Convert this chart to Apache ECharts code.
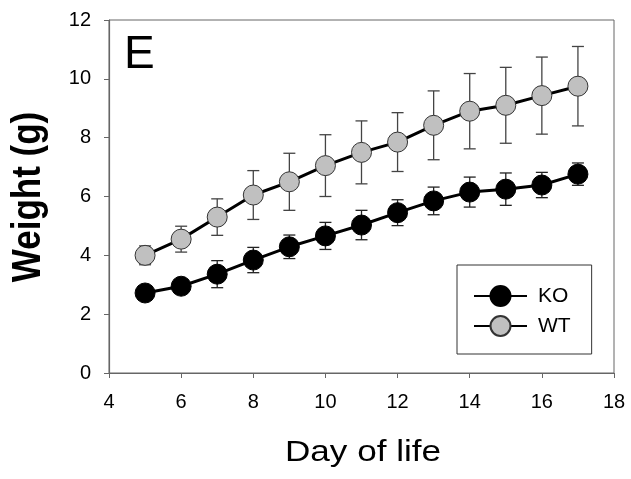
<!DOCTYPE html>
<html>
<head>
<meta charset="utf-8">
<script src="https://cdn.jsdelivr.net/npm/echarts@6/dist/echarts.min.js"></script>
<style>
  html, body { margin: 0; padding: 0; background: #fff; }
  #main { width: 631px; height: 479px; }
</style>
</head>
<body>
<div id="main"></div>
<script>
// data
const days = [5, 6, 7, 8, 9, 10, 11, 12, 13, 14, 15, 16, 17];
const koMean = [2.72, 2.95, 3.36, 3.84, 4.29, 4.66, 5.03, 5.45, 5.85, 6.15, 6.25, 6.39, 6.76];
const koErr = [0.2, 0.2, 0.46, 0.43, 0.40, 0.46, 0.50, 0.44, 0.47, 0.51, 0.55, 0.43, 0.38];
const wtMean = [4.0, 4.55, 5.3, 6.05, 6.5, 7.05, 7.5, 7.85, 8.42, 8.9, 9.1, 9.43, 9.75];
const wtErr = [0.32, 0.44, 0.62, 0.83, 0.97, 1.05, 1.07, 1.0, 1.17, 1.28, 1.29, 1.31, 1.35];
const xTicks = [4, 6, 8, 10, 12, 14, 16, 18];
const yTicks = [0, 2, 4, 6, 8, 10, 12];

const font = 'Liberation Sans, Arial, sans-serif';

// error bar drawing
function errBar(color) {
  return function (params, api) {
    const x = api.value(0);
    const top = api.coord([x, api.value(1)]);
    const bot = api.coord([x, api.value(2)]);
    const w = 6;
    const style = { stroke: color, lineWidth: 1.3 };
    return {
      type: 'group',
      children: [
        { type: 'line', shape: { x1: top[0], y1: top[1], x2: bot[0], y2: bot[1] }, style: style },
        { type: 'line', shape: { x1: top[0] - w, y1: top[1], x2: top[0] + w, y2: top[1] }, style: style },
        { type: 'line', shape: { x1: bot[0] - w, y1: bot[1], x2: bot[0] + w, y2: bot[1] }, style: style }
      ]
    };
  };
}

const koBars = days.map((d, i) => [d, koMean[i] + koErr[i], koMean[i] - koErr[i]]);
const wtBars = days.map((d, i) => [d, wtMean[i] + wtErr[i], wtMean[i] - wtErr[i]]);

const option = {
  animation: false,
  backgroundColor: '#fff',
  textStyle: { fontFamily: font },
  grid: {
    left: 109, top: 20, right: 17, bottom: 106,
    show: true, borderColor: '#666', borderWidth: 1
  },
  graphic: [
    {
      type: 'text', left: 124, top: 32,
      style: { text: 'E', font: '46px ' + font, fill: '#000' }
    },
    // axis titles (the figure is a bit stretched sideways)
    {
      type: 'text', x: 363, y: 453, scaleX: 1.17,
      style: { text: 'Day of life', font: '30px ' + font, fill: '#000', align: 'center', verticalAlign: 'middle' }
    },
    {
      type: 'text', x: 29, y: 197, rotation: Math.PI / 2, scaleY: 1.18,
      style: { text: 'Weight (g)', font: 'bold 35px ' + font, fill: '#000', align: 'center', verticalAlign: 'middle' }
    }
  ],
  legend: {
    left: 457, top: 265,
    orient: 'vertical',
    data: ['KO', 'WT'],
    itemWidth: 53, itemHeight: 25, itemGap: 8,
    padding: [20, 21, 17, 16],
    borderColor: '#333', borderWidth: 1,
    textStyle: { fontSize: 21, color: '#000', fontFamily: font, padding: [0, 0, 0, 6] }
  },
  xAxis: {
    type: 'value', min: 4, max: 18, interval: 2,
    axisLine: { onZero: false, lineStyle: { color: '#666', width: 1.2 } },
    axisTick: { inside: false, length: 5, lineStyle: { color: '#666' } },
    axisLabel: { fontSize: 20, color: '#000', margin: 19,
      formatter: v => xTicks.includes(v) ? String(v) : '' },
    splitLine: { show: false }
  },
  yAxis: {
    type: 'value', min: 0, max: 12, interval: 2,
    axisLine: { show: true, lineStyle: { color: '#666', width: 1.2 } },
    axisTick: { show: true, inside: false, length: 5, lineStyle: { color: '#666' } },
    axisLabel: { fontSize: 20, color: '#000', margin: 18,
      formatter: v => yTicks.includes(v) ? String(v) : '' },
    splitLine: { show: false }
  },
  series: [
    {
      type: 'custom', name: 'KO err', z: 1,
      renderItem: errBar('#222'),
      encode: { x: 0, y: [1, 2] },
      data: koBars
    },
    {
      type: 'custom', name: 'WT err', z: 1,
      renderItem: errBar('#444'),
      encode: { x: 0, y: [1, 2] },
      data: wtBars
    },
    {
      name: 'KO', type: 'line', z: 3,
      data: days.map((d, i) => [d, koMean[i]]),
      symbol: 'circle', symbolSize: 20,
      lineStyle: { color: '#000', width: 3 },
      itemStyle: { color: '#000', borderColor: '#000', borderWidth: 1 }
    },
    {
      name: 'WT', type: 'line', z: 3,
      data: days.map((d, i) => [d, wtMean[i]]),
      symbol: 'circle', symbolSize: 20,
      lineStyle: { color: '#000', width: 3 },
      itemStyle: { color: '#c0c0c0', borderColor: '#333', borderWidth: 1 }
    }
  ]
};

const chart = echarts.init(document.getElementById('main'));
chart.setOption(option);
</script>
</body>
</html>
